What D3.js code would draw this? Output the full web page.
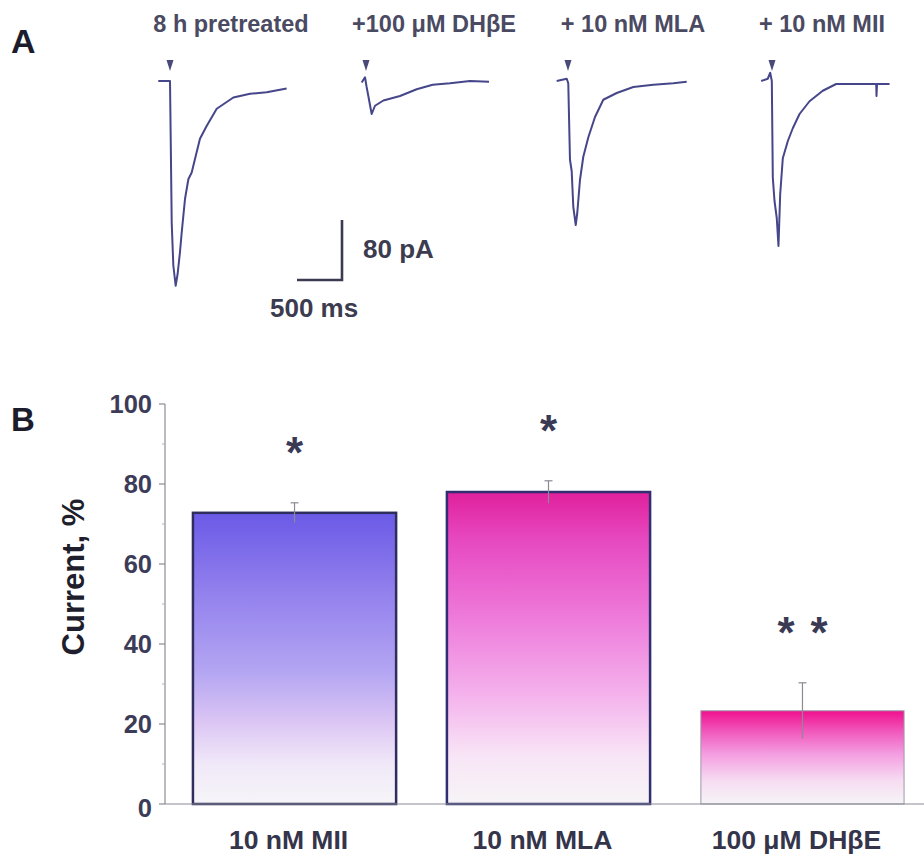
<!DOCTYPE html>
<html>
<head>
<meta charset="utf-8">
<script src="https://cdn.jsdelivr.net/npm/d3@7"></script>
<style>
    body { margin: 0; background: #fff; }
    svg { display: block; font-family: "Liberation Sans", Arial, sans-serif; font-weight: bold; }
</style>
</head>
<body>
<div class="figure"></div>
<script>
// ----- DATA ------------------------------------------------------------
// panel A: whole-cell current traces (time in ms from puff, current in pA)
const traceTitles = ["8 h pretreated", "+100 \u03bcM DH\u03b2E", "+ 10 nM MLA", "+ 10 nM MII"];

const pretreatedTime    = [-130, 0, 7, 19, 37, 63, 85, 111, 130, 167, 204, 241, 296, 333, 407, 519, 630, 704, 889, 1074, 1296];
const pretreatedCurrent = [0, 0, -68, -189, -246, -273, -257, -228, -202, -157, -131, -122, -95, -77, -60, -37, -28, -22, -17, -15, -10];

const dhbeTime    = [-48, -11, 7, 26, 52, 63, 100, 193, 378, 563, 741, 933, 1156, 1367];
const dhbeCurrent = [-2, 5, -8, -20, -37, -44, -33, -26, -20, -11, -5, -3, 0, -1];

const mlaTime    = [-126, -14, 3, 22, 41, 59, 86, 103, 133, 170, 226, 300, 392, 541, 726, 948, 1170, 1319];
const mlaCurrent = [0, 3, -3, -105, -120, -168, -192, -176, -132, -101, -75, -48, -25, -16, -8, -5, -3, -1];

const miiTime    = [-120, -47, -20, -2, 9, 28, 53, 72, 91, 120, 176, 231, 306, 417, 564, 713, 972, 1158, 1161, 1167, 1306];
const miiCurrent = [0, 3, 11, 0, -129, -160, -183, -220, -151, -103, -80, -63, -44, -27, -13, -4, -4, -4, -20, -4, -4];

// scale bar values
const scaleBarTime = 500;     // ms
const scaleBarCurrent = 80;   // pA

// panel B: bar chart
const categories = ["10 nM MII", "10 nM MLA", "100 \u03bcM DH\u03b2E"];
const meanValues = [72.8, 78.0, 23.3];
const semValues  = [2.5, 2.8, 7.0];
const sigLabels  = ["*", "*", "* *"];
const yTicks     = [0, 20, 40, 60, 80, 100];
const yMinorTicks = [10, 30, 50, 70, 90];

// ----- LAYOUT / STYLE --------------------------------------------------
const width = 924, height = 859;
const textColour = "#3c3c58";
const traceOnsetX = [170, 366, 568, 772];
const traceTitleX = [231, 434, 633, 822];
const traceBaselineY = 81;

const barGradients = [
    [[0, "#6b5ae6"], [0.3, "#9684ee"], [0.55, "#b4a6f2"], [0.72, "#dcc6f4"], [0.86, "#f0e8f8"], [1, "#f6f5f8"]],
    [[0, "#e0209c"], [0.15, "#e648c0"], [0.4, "#ee7ada"], [0.65, "#f4b2ec"], [0.85, "#f8e6f6"], [1, "#f6f4f6"]],
    [[0, "#f0108e"], [0.2, "#f052b8"], [0.45, "#f49ae0"], [0.75, "#f6dcf2"], [1, "#f6f4f6"]]
];
const barStroke      = ["#2e2e5e", "#2e2e70", "#9a9aa8"];
const barStrokeWidth = [2.5, 2.5, 1];

let svg = d3.select(".figure").append("svg")
            .attr("width", width)
            .attr("height", height);

// panel letters
svg.append("text").text("A")
    .attr("x", 11).attr("y", 53)
    .attr("font-size", 34).attr("fill", "#1c1c2c");

svg.append("text").text("B")
    .attr("x", 11).attr("y", 431)
    .attr("font-size", 33).attr("fill", "#1c1c2c");

// ----- PANEL A ---------------------------------------------------------
let t = d3.scaleLinear().domain([0, scaleBarTime]).range([0, 45]);
let c = d3.scaleLinear().domain([0, scaleBarCurrent]).range([0, -60]);

const traces = [
    { time: pretreatedTime, current: pretreatedCurrent },
    { time: dhbeTime, current: dhbeCurrent },
    { time: mlaTime, current: mlaCurrent },
    { time: miiTime, current: miiCurrent }
];

let panelA = svg.append("g").classed("panelA", true);

traces.forEach((tr, i) =>
{
    let g = panelA.append("g")
        .attr("transform", "translate(" + traceOnsetX[i] + "," + traceBaselineY + ")");

    let pts = tr.time.map((d, j) => [t(d), c(tr.current[j])]);

    g.append("path")
        .attr("d", d3.line()(pts))
        .attr("fill", "none")
        .attr("stroke", "#46468a")
        .attr("stroke-width", 2)
        .attr("stroke-linejoin", "round");

    // application marker
    g.append("path")
        .attr("d", "M-3.5,-21 L3.5,-21 L0,-10 Z")
        .attr("fill", "#4a4a78");

    panelA.append("text")
        .text(traceTitles[i])
        .attr("x", traceTitleX[i])
        .attr("y", 32)
        .attr("text-anchor", "middle")
        .attr("font-size", 23.5)
        .attr("fill", "#4a4a62");
});

// scale bar
let sb = panelA.append("g").attr("transform", "translate(342,280)");
sb.append("path")
    .attr("d", "M" + (-t(scaleBarTime)) + ",0 H0 V" + c(scaleBarCurrent))
    .attr("fill", "none")
    .attr("stroke", "#3a3a50")
    .attr("stroke-width", 2.6);

sb.append("text").text(scaleBarCurrent + " pA")
    .attr("x", 21).attr("y", -22)
    .attr("font-size", 26).attr("fill", "#3c3c50");

sb.append("text").text(scaleBarTime + " ms")
    .attr("x", -72).attr("y", 37)
    .attr("font-size", 26).attr("fill", "#3c3c50");

// ----- PANEL B ---------------------------------------------------------
let y = d3.scaleLinear().domain([0, 100]).range([804, 404]);
let x = d3.scaleBand()
    .domain(categories)
    .range([165, 932])
    .paddingInner(0.2)
    .paddingOuter(0.11);

let defs = svg.append("defs");
barGradients.forEach((stops, i) =>
{
    let grad = defs.append("linearGradient")
        .attr("id", "barGrad" + i)
        .attr("x1", 0).attr("y1", 0)
        .attr("x2", 0).attr("y2", 1);
    stops.forEach(s =>
    {
        grad.append("stop").attr("offset", s[0]).attr("stop-color", s[1]);
    });
});

let panelB = svg.append("g").classed("panelB", true);

// bars
panelB.selectAll(".bar")
    .data(meanValues)
    .enter()
        .append("rect")
        .classed("bar", true)
        .attr("x", (d, i) => x(categories[i]))
        .attr("y", d => y(d))
        .attr("width", x.bandwidth())
        .attr("height", d => y(0) - y(d))
        .attr("fill", (d, i) => "url(#barGrad" + i + ")")
        .attr("stroke", (d, i) => barStroke[i])
        .attr("stroke-width", (d, i) => barStrokeWidth[i]);

// error bars
let err = panelB.selectAll(".errorBar")
    .data(meanValues)
    .enter()
        .append("g")
        .classed("errorBar", true)
        .attr("transform", (d, i) => "translate(" + (x(categories[i]) + x.bandwidth() / 2) + ",0)");

err.append("line")
    .attr("x1", 0).attr("x2", 0)
    .attr("y1", (d, i) => y(d - semValues[i]))
    .attr("y2", (d, i) => y(d + semValues[i]))
    .attr("stroke", "#8a8a96")
    .attr("stroke-width", 1.2);

err.append("line")
    .attr("x1", -4).attr("x2", 4)
    .attr("y1", (d, i) => y(d + semValues[i]))
    .attr("y2", (d, i) => y(d + semValues[i]))
    .attr("stroke", "#8a8a96")
    .attr("stroke-width", 1.2);

// significance stars
sigLabels.forEach((lab, i) =>
{
    let stars = lab.split(" ");
    let cx = x(categories[i]) + x.bandwidth() / 2;
    let cy = y(meanValues[i] + semValues[i]) - 60;
    stars.forEach((s, k) =>
    {
        panelB.append("text")
            .text(s)
            .attr("x", cx + (k - (stars.length - 1) / 2) * 33)
            .attr("y", cy + 25)
            .attr("text-anchor", "middle")
            .attr("font-size", 44)
            .attr("fill", "#3a3a55");
    });
});

// y axis
let yAxisGroup = panelB.append("g").attr("transform", "translate(165,0)");

yAxisGroup.append("line")
    .attr("x1", 0).attr("x2", 0)
    .attr("y1", y(100)).attr("y2", y(0))
    .attr("stroke", "#8a8a96").attr("stroke-width", 1.2);

yAxisGroup.selectAll(".tick")
    .data(yTicks)
    .enter()
        .append("line")
        .attr("x1", -6).attr("x2", 0)
        .attr("y1", d => y(d)).attr("y2", d => y(d))
        .attr("stroke", "#8a8a96").attr("stroke-width", 1.2);

yAxisGroup.selectAll(".minorTick")
    .data(yMinorTicks)
    .enter()
        .append("line")
        .attr("x1", -3).attr("x2", 0)
        .attr("y1", d => y(d)).attr("y2", d => y(d))
        .attr("stroke", "#b0b0ba").attr("stroke-width", 1);

yAxisGroup.selectAll(".tickLabel")
    .data(yTicks)
    .enter()
        .append("text")
        .text(d => d)
        .attr("x", -13)
        .attr("y", d => y(d) + 9 + (d === 0 ? 4 : 0))
        .attr("text-anchor", "end")
        .attr("font-size", 25.5)
        .attr("fill", textColour);

// axis label
panelB.append("text")
    .text("Current, %")
    .attr("transform", "translate(84,577) rotate(-90)")
    .attr("text-anchor", "middle")
    .attr("font-size", 31)
    .attr("fill", "#1e1e2c");

// baseline
panelB.append("line")
    .attr("x1", 165).attr("x2", width)
    .attr("y1", y(0)).attr("y2", y(0))
    .attr("stroke", "#8a8a96").attr("stroke-width", 1.2);

// category labels
panelB.selectAll(".catLabel")
    .data(categories)
    .enter()
        .append("text")
        .text(d => d)
        .attr("x", d => x(d) + x.bandwidth() / 2 - 6)
        .attr("y", 849)
        .attr("text-anchor", "middle")
        .attr("font-size", 26.5)
        .attr("fill", "#34344a");
</script>
</body>
</html>
